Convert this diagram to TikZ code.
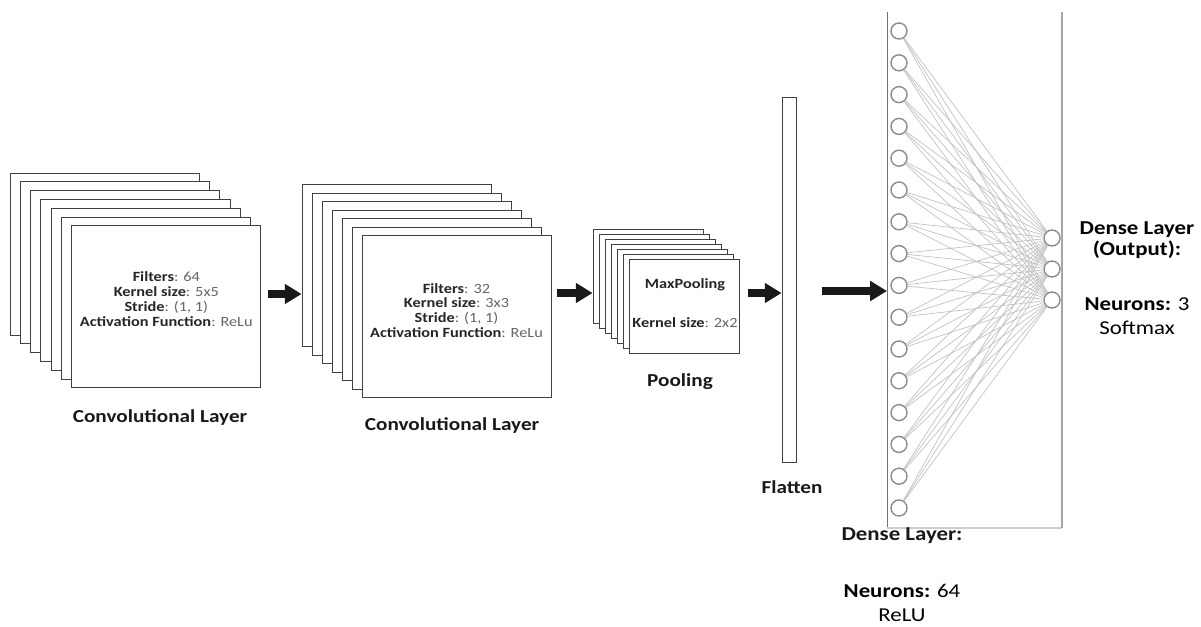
\documentclass[tikz,border=0pt]{standalone}
\usepackage{fontspec}
\setmainfont[FakeStretch=1.16]{Carlito}
\usetikzlibrary{positioning,arrows.meta,calc}

\newcommand{\prm}[1]{\textcolor{black!85}{\textbf{#1}}}

\begin{document}
\begin{tikzpicture}[x=0.025cm,y=-0.025cm,
	fmap/.style={draw=black!75,fill=white,line width=0.6pt,
		minimum width=4.725cm,minimum height=4.05cm,inner sep=0pt},
	pmap/.style={draw=black!75,fill=white,line width=0.6pt,
		minimum width=2.75cm,minimum height=2.35cm,inner sep=0pt},
	info/.style={align=center,text=black!60,font=\fontsize{10}{10.6}\selectfont},
	lbl/.style={align=center,text=black!90,font=\fontsize{13}{15}\selectfont\bfseries},
	neuron/.style={circle,draw=black!45,line width=1pt,fill=white,
		minimum size=0.4cm,inner sep=0pt},
	link/.style={black!24,line width=0.5pt},
	big/.style={-{Triangle[length=0.42cm,width=0.48cm]},line width=5pt,black!90}]
	\useasboundingbox (0,0) rectangle (1201,626);

	% first convolutional layer
	\foreach \i in {0,...,6}
		\node[fmap] (C1-\i) at ({104.5+10.3*\i},{254+8.8*\i}) {};
	\node[info] (T1) at ($(C1-6)+(0,-8)$) {\prm{Filters}: 64\\
		\prm{Kernel size}: 5x5\\ \prm{Stride}: (1, 1)\\
		\prm{Activation Function}: ReLu};
	\node[lbl] (L1) at (160,417) {Convolutional Layer};

	% second convolutional layer
	\foreach \i in {0,...,6}
		\node[fmap] (C2-\i) at ({396.5+10*\i},{265.5+8.5*\i}) {};
	\node[info] (T2) at ($(C2-6)+(0,-6)$) {\prm{Filters}: 32\\
		\prm{Kernel size}: 3x3\\ \prm{Stride}: (1, 1)\\
		\prm{Activation Function}: ReLu};
	\node[lbl] (L2) at (452,425) {Convolutional Layer};

	% pooling
	\foreach \i in {0,...,6}
		\node[pmap] (P-\i) at ({648+6*\i},{276+5*\i}) {};
	\node[info] (mp) at (685,285) {\prm{MaxPooling}};
	\node[info] (ks) at (685,323) {\prm{Kernel size}: 2x2};
	\node[lbl] (L3) at (680,382) {Pooling};

	% flatten
	\node[draw=black!75,line width=0.6pt,minimum width=0.35cm,
		minimum height=9.125cm,inner sep=0pt] (F) at (789,279.5) {};
	\node[lbl] (L4) at (792,487) {Flatten};

	% dense layers
	\coordinate (TL) at (887,12);
	\coordinate (BL) at (887,528);
	\coordinate (BR) at (1062,528);
	\coordinate (TR) at (1062,12);
	\draw[black!55,line width=0.6pt] (TL) -- (BL);
	\draw[black!20,line width=0.8pt] (BL) -- (BR);
	\draw[black!35,line width=0.8pt] (BR) -- (TR);

	\foreach \i in {1,...,16}
		\node[neuron] (N\i) at (899,{31+31.8*(\i-1)}) {};
	\foreach \j/\y in {1/238,2/269,3/300}
		\node[neuron] (O\j) at (1052,\y) {};
	\foreach \i in {1,...,16}
		\foreach \j in {1,2,3}
			\draw[link] (N\i) -- (O\j);

	\node[lbl,font=\fontsize{14}{16}\selectfont\bfseries] (D1) at (902,536) {Dense Layer:};
	\node[align=center,font=\fontsize{14}{25}\selectfont] (D2) at (902,603)
		{\textbf{Neurons:} 64\\[-8pt] ReLU};
	\node[align=center,font=\fontsize{14}{14.5}\selectfont] (D3) at (1137,240)
		{\textbf{Dense Layer}\\ \textbf{(Output):}};
	\node[align=center,font=\fontsize{14}{25}\selectfont] (D4) at (1137,316)
		{\textbf{Neurons:} 3\\[-8pt] Softmax};

	% arrows
	\coordinate (a1) at (268,294);
	\coordinate (a2) at (557,293);
	\coordinate (a3) at (748,293);
	\coordinate (a4) at (822,291);
	\draw[big] (a1) -- (a1 -| C2-0.west);
	\draw[big] (a2) -- (a2 -| P-0.west);
	\draw[big] (a3) -- (a3 -| F.west);
	\draw[big] (a4) -- (a4 -| TL);
\end{tikzpicture}
\end{document}
